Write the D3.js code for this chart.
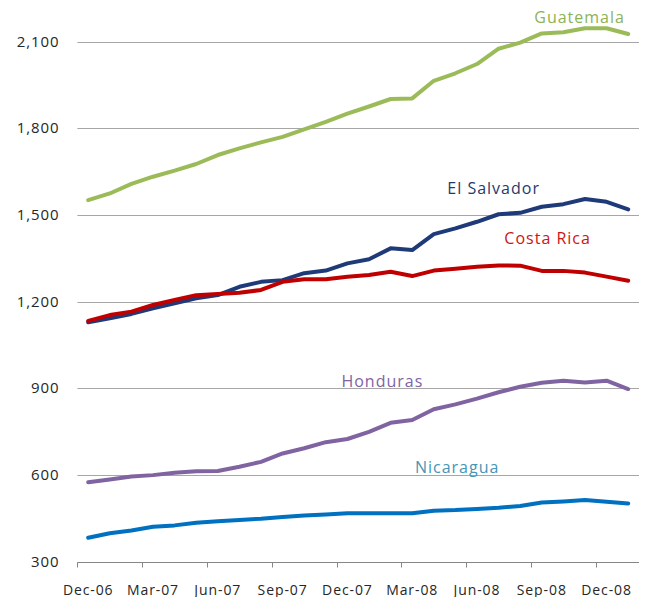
<!DOCTYPE html>
<html>
<head>
<meta charset="utf-8">
<script src="https://cdn.jsdelivr.net/npm/d3@7"></script>
<style>
  body { margin: 0; background: #fff; }
  svg { display: block; font-family: "Open Sans", sans-serif; }
</style>
</head>
<body>
<div id="chart"></div>
<script>
// monthly categories, Dec-06 .. Jan-09
const months = ['Dec-06', 'Jan-07', 'Feb-07', 'Mar-07', 'Apr-07', 'May-07', 'Jun-07', 'Jul-07', 'Aug-07',
  'Sep-07', 'Oct-07', 'Nov-07', 'Dec-07', 'Jan-08', 'Feb-08', 'Mar-08', 'Apr-08', 'May-08', 'Jun-08',
  'Jul-08', 'Aug-08', 'Sep-08', 'Oct-08', 'Nov-08', 'Dec-08', 'Jan-09'];

const guatemala = [1551, 1574, 1607, 1632, 1653, 1676, 1707, 1730, 1751, 1770, 1796, 1822, 1850,
  1875, 1901, 1903, 1964, 1990, 2022, 2075, 2096, 2128, 2132, 2146, 2146, 2126];
const elSalvador = [1128, 1142, 1157, 1176, 1194, 1211, 1222, 1251, 1268, 1274, 1298, 1307, 1332,
  1346, 1384, 1378, 1433, 1453, 1476, 1502, 1507, 1528, 1537, 1555, 1545, 1519];
const costaRica = [1133, 1153, 1165, 1188, 1205, 1222, 1226, 1230, 1240, 1268, 1277, 1277, 1286,
  1292, 1303, 1288, 1307, 1313, 1320, 1325, 1324, 1306, 1306, 1300, 1286, 1272];
const honduras = [574, 584, 594, 599, 607, 612, 613, 628, 645, 674, 692, 713, 724,
  749, 780, 790, 827, 844, 864, 886, 905, 919, 926, 920, 926, 897];
const nicaragua = [382, 398, 407, 420, 425, 434, 439, 444, 448, 454, 459, 463, 467,
  467, 467, 467, 476, 478, 482, 486, 492, 504, 508, 513, 507, 501];

const yTicks = [300, 600, 900, 1200, 1500, 1800, 2100];

// label anchor given as [category index, value]
const series = [
  { name: 'Guatemala', values: guatemala, color: '#9bbb59', text: '#8db255', at: [22.75, 2164] },
  { name: 'El Salvador', values: elSalvador, color: '#1f3a78', text: '#1f3a6e', at: [18.77, 1572] },
  { name: 'Costa Rica', values: costaRica, color: '#c00000', text: '#cc1515', at: [21.27, 1398] },
  { name: 'Honduras', values: honduras, color: '#8064a2', text: '#8064a2', at: [13.62, 904] },
  { name: 'Nicaragua', values: nicaragua, color: '#0070c0', text: '#4596b5', at: [17.08, 606] }
];

const width = 645, height = 597;
const plot = { left: 77.4, right: 639, top: 41.5, bottom: 561.5 };

const svg = d3.select('#chart').append('svg')
  .attr('width', width)
  .attr('height', height);

// Scales
const x = d3.scaleBand().domain(months).range([plot.left, plot.right]).padding(0);
const xi = d3.scaleLinear().domain([-0.5, months.length - 0.5]).range([plot.left, plot.right]);
const y = d3.scaleLinear().domain([300, 2100]).range([plot.bottom, plot.top]);

// Grid
svg.append('g')
  .attr('class', 'grid')
  .selectAll('line')
  .data(yTicks.slice(1))
  .join('line')
  .attr('x1', plot.left)
  .attr('x2', plot.right)
  .attr('y1', d => Math.round(y(d)) + 0.5)
  .attr('y2', d => Math.round(y(d)) + 0.5)
  .attr('stroke', '#a6a6a6')
  .attr('stroke-width', 1);

// Y axis labels
const yAxis = d3.axisLeft(y)
  .tickValues(yTicks)
  .tickSize(0)
  .tickPadding(18)
  .tickFormat(d3.format(','));

svg.append('g')
  .attr('class', 'y-axis')
  .attr('transform', `translate(${plot.left},0)`)
  .call(yAxis)
  .call(g => g.select('.domain').remove())
  .selectAll('text')
  .style('font-family', '"Open Sans", sans-serif')
  .style('font-size', '15px')
  .style('letter-spacing', '0.9px')
  .style('fill', '#262626');

// X axis
const labelMonths = months.filter((d, i) => i % 3 === 0);

const xAxisG = svg.append('g')
  .attr('class', 'x-axis')
  .attr('transform', `translate(0,${Math.round(plot.bottom) + 0.5})`);

xAxisG.append('line')
  .attr('x1', plot.left)
  .attr('x2', plot.right)
  .attr('stroke', '#868686');

xAxisG.selectAll('.tick-mark')
  .data(labelMonths)
  .join('line')
  .attr('class', 'tick-mark')
  .attr('x1', d => Math.round(x(d)) + 0.5)
  .attr('x2', d => Math.round(x(d)) + 0.5)
  .attr('y1', 0)
  .attr('y2', 5)
  .attr('stroke', '#868686');

xAxisG.selectAll('.tick-label')
  .data(labelMonths)
  .join('text')
  .attr('class', 'tick-label')
  .attr('x', d => x(d) + x.bandwidth() / 2)
  .attr('y', 32)
  .attr('text-anchor', 'middle')
  .style('font-size', '14px')
  .style('letter-spacing', '0.9px')
  .style('fill', '#262626')
  .text(d => d);

// Lines
const line = d3.line()
  .x((d, i) => x(months[i]) + x.bandwidth() / 2)
  .y(d => y(d));

svg.append('g')
  .attr('class', 'lines')
  .selectAll('path')
  .data(series)
  .join('path')
  .attr('d', d => line(d.values))
  .attr('fill', 'none')
  .attr('stroke', d => d.color)
  .attr('stroke-width', 4)
  .attr('stroke-linejoin', 'round')
  .attr('stroke-linecap', 'round');

// Series labels
svg.append('g')
  .attr('class', 'labels')
  .selectAll('text')
  .data(series)
  .join('text')
  .attr('x', d => xi(d.at[0]))
  .attr('y', d => y(d.at[1]))
  .attr('text-anchor', 'middle')
  .style('font-size', '16px')
  .style('letter-spacing', '1px')
  .style('fill', d => d.text)
  .text(d => d.name);
</script>
</body>
</html>
